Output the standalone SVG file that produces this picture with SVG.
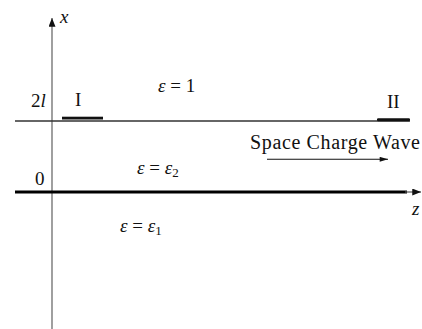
<svg xmlns="http://www.w3.org/2000/svg" width="422" height="329" viewBox="0 0 422 329">
<defs>
<style>
text{font-family:"Liberation Serif","Times New Roman",Times,serif;fill:#111}
.lbl{font-size:19px}
.it{font-style:italic}
</style>
<marker id="ah" viewBox="0 0 10 8" refX="10" refY="4" markerWidth="9" markerHeight="7" markerUnits="userSpaceOnUse" orient="auto">
<path d="M0,0 L10,4 L0,8 z" fill="#111"/>
</marker>
<marker id="ahs" viewBox="0 0 10 6" refX="10" refY="3" markerWidth="9" markerHeight="5" markerUnits="userSpaceOnUse" orient="auto">
<path d="M0,0 L10,3 L0,6 z" fill="#111"/>
</marker>
</defs>
<rect width="422" height="329" fill="#fff"/>
<g id="connectors">
<line x1="52" y1="329" x2="52" y2="18" stroke="#777" stroke-width="1.4" marker-end="url(#ah)"/>
<line x1="15" y1="121" x2="410" y2="121" stroke="#333" stroke-width="1.4"/>
<line x1="15" y1="192" x2="407" y2="192" stroke="#000" stroke-width="2.8"/>
<line x1="405" y1="192" x2="421" y2="192" stroke="#555" stroke-width="1.2" marker-end="url(#ah)"/>
<line x1="267" y1="159.3" x2="388" y2="159.3" stroke="#111" stroke-width="1.1" marker-end="url(#ahs)"/>
</g>
<g id="electrode-I"><rect x="62" y="116.7" width="41" height="2.8" fill="#111"/></g>
<g id="electrode-II"><rect x="377" y="118.3" width="33" height="3" rx="1.2" fill="#111"/></g>
<g id="labels">
<text class="lbl it" x="60" y="23">x</text>
<text class="lbl" x="31" y="107">2<tspan class="it">l</tspan></text>
<text class="lbl" x="75" y="106">I</text>
<text class="lbl" x="387" y="108">II</text>
<text class="lbl" x="35" y="185">0</text>
<text class="lbl" x="158" y="92"><tspan class="it">ε</tspan> = 1</text>
<text class="lbl" x="137" y="174"><tspan class="it">ε</tspan> = <tspan class="it">ε</tspan><tspan font-size="13" dy="3">2</tspan></text>
<text class="lbl" x="120" y="232"><tspan class="it">ε</tspan> = <tspan class="it">ε</tspan><tspan font-size="13" dy="3">1</tspan></text>
<text x="250" y="148.5" font-size="20" textLength="170">Space Charge Wave</text>
<text class="lbl it" x="412" y="215">z</text>
</g>
</svg>
